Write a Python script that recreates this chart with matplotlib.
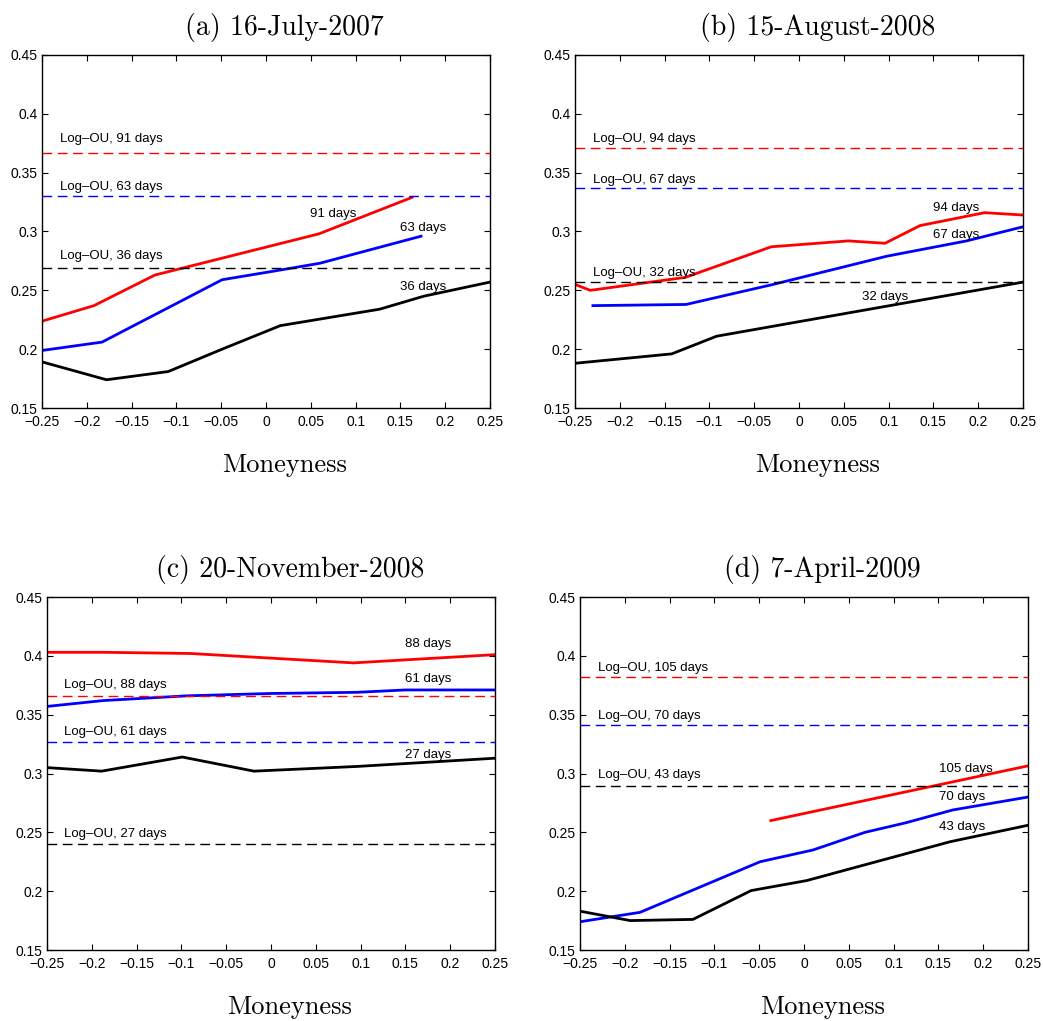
import matplotlib
matplotlib.use("Agg")
import matplotlib.pyplot as plt

# panel titles
titles = ["(a) 16-July-2007", "(b) 15-August-2008",
          "(c) 20-November-2008", "(d) 7-April-2009"]

# maturities (days) for red / blue / black curves
days_a = [91, 63, 36]
days_b = [94, 67, 32]
days_c = [88, 61, 27]
days_d = [105, 70, 43]

# Log-OU flat levels (red, blue, black)
ou_a = [0.367, 0.330, 0.269]
ou_b = [0.371, 0.337, 0.257]
ou_c = [0.366, 0.327, 0.240]
ou_d = [0.382, 0.341, 0.289]

# (a) market implied vols
a_red_x = [-0.249, -0.192, -0.124, 0.059, 0.163]
a_red_y = [0.224, 0.237, 0.263, 0.298, 0.329]
a_blue_x = [-0.249, -0.183, -0.049, 0.014, 0.060, 0.173]
a_blue_y = [0.199, 0.206, 0.259, 0.267, 0.273, 0.296]
a_blk_x = [-0.249, -0.178, -0.109, -0.049, 0.016, 0.127, 0.176, 0.25]
a_blk_y = [0.189, 0.174, 0.181, 0.200, 0.220, 0.234, 0.245, 0.257]

# (b)
b_red_x = [-0.25, -0.233, -0.127, -0.031, 0.055, 0.096, 0.135, 0.207, 0.25]
b_red_y = [0.255, 0.250, 0.261, 0.287, 0.292, 0.290, 0.305, 0.316, 0.314]
b_blue_x = [-0.230, -0.126, -0.029, 0.098, 0.187, 0.25]
b_blue_y = [0.237, 0.238, 0.255, 0.279, 0.292, 0.304]
b_blk_x = [-0.25, -0.142, -0.092, 0.25]
b_blk_y = [0.188, 0.196, 0.211, 0.257]

# (c)
c_red_x = [-0.25, -0.187, -0.090, 0.092, 0.25]
c_red_y = [0.403, 0.403, 0.402, 0.394, 0.401]
c_blue_x = [-0.25, -0.187, -0.094, -0.001, 0.096, 0.150, 0.25]
c_blue_y = [0.357, 0.362, 0.366, 0.368, 0.369, 0.371, 0.371]
c_blk_x = [-0.25, -0.189, -0.099, -0.019, 0.096, 0.25]
c_blk_y = [0.305, 0.302, 0.314, 0.302, 0.306, 0.313]

# (d)
d_red_x = [-0.037, 0.25]
d_red_y = [0.260, 0.3065]
d_blue_x = [-0.25, -0.183, -0.049, 0.010, 0.068, 0.113, 0.166, 0.25]
d_blue_y = [0.174, 0.182, 0.225, 0.235, 0.250, 0.258, 0.269, 0.280]
d_blk_x = [-0.25, -0.194, -0.124, -0.059, 0.003, 0.066, 0.163, 0.25]
d_blk_y = [0.183, 0.175, 0.176, 0.2005, 0.209, 0.222, 0.242, 0.256]

xticks = [-0.25, -0.2, -0.15, -0.1, -0.05, 0, 0.05, 0.1, 0.15, 0.2, 0.25]
yticks = [0.15, 0.2, 0.25, 0.3, 0.35, 0.4, 0.45]

panels = [
    (titles[0], days_a, ou_a, [(a_red_x, a_red_y), (a_blue_x, a_blue_y), (a_blk_x, a_blk_y)]),
    (titles[1], days_b, ou_b, [(b_red_x, b_red_y), (b_blue_x, b_blue_y), (b_blk_x, b_blk_y)]),
    (titles[2], days_c, ou_c, [(c_red_x, c_red_y), (c_blue_x, c_blue_y), (c_blk_x, c_blk_y)]),
    (titles[3], days_d, ou_d, [(d_red_x, d_red_y), (d_blue_x, d_blue_y), (d_blk_x, d_blk_y)]),
]

# label positions (x, y in data) for the Log-OU texts and the curve texts
ou_label_xy = [
    [(-0.230, 0.379), (-0.230, 0.338), (-0.230, 0.279)],
    [(-0.230, 0.379), (-0.230, 0.344), (-0.230, 0.265)],
    [(-0.231, 0.375), (-0.231, 0.335), (-0.231, 0.249)],
    [(-0.230, 0.390), (-0.230, 0.349), (-0.230, 0.299)],
]
curve_label_xy = [
    [(0.049, 0.315), (0.150, 0.303), (0.150, 0.253)],
    [(0.150, 0.320), (0.150, 0.297), (0.070, 0.2445)],
    [(0.150, 0.410), (0.150, 0.380), (0.150, 0.3155)],
    [(0.151, 0.304), (0.151, 0.280), (0.151, 0.2545)],
]

colors = ["#ff0000", "#0000ff", "#000000"]

fig = plt.figure(figsize=(10.43, 10.21), dpi=100)
W, H = 1043.0, 1021.0
boxes = [(42, 55), (575, 55), (47, 597), (580, 597)]
aw, ah = 448, 353

sans = "Liberation Sans"

for i, (title, days, ou, series) in enumerate(panels):
    x0, y0 = boxes[i]
    ax = fig.add_axes([x0 / W, 1 - (y0 + ah) / H, aw / W, ah / H])

    for j, (xs, ys) in enumerate(series):
        ax.plot(xs, ys, color=colors[j], lw=2.0, solid_joinstyle="miter")
    for j, lvl in enumerate(ou):
        ax.axhline(lvl, color=colors[j], lw=1.0, linestyle=(0, (7, 4)))

    for j in range(3):
        lx, ly = ou_label_xy[i][j]
        ax.text(lx, ly, f"Log\u2013OU, {days[j]} days", fontsize=9.5,
                family=sans, va="center", ha="left")
        cx, cy = curve_label_xy[i][j]
        ax.text(cx, cy, f"{days[j]} days", fontsize=9.5, family=sans,
                va="center", ha="left")

    ax.set_xlim(-0.25, 0.25)
    ax.set_ylim(0.15, 0.45)
    ax.set_xticks(xticks)
    ax.set_yticks(yticks)
    ax.set_xticklabels([f"{t:g}".replace("-", "\u2212") for t in xticks])
    ax.set_yticklabels([f"{t:g}" for t in yticks])
    ax.tick_params(direction="in", length=4, width=0.8, top=True, right=True,
                   labelsize=10)
    ax.tick_params(axis="x", pad=5)
    ax.tick_params(axis="y", pad=3)
    for lab in ax.get_xticklabels() + ax.get_yticklabels():
        lab.set_family(sans)
    for sp in ax.spines.values():
        sp.set_linewidth(1.0)

    ax.text(0.542, 1.057, title, transform=ax.transAxes, ha="center",
            va="baseline", fontsize=20, family="cmr10")
    ax.text(0.542, -0.181, "Moneyness", transform=ax.transAxes, ha="center",
            va="baseline", fontsize=19, family="cmr10")

plt.savefig("out.png", dpi=100)
